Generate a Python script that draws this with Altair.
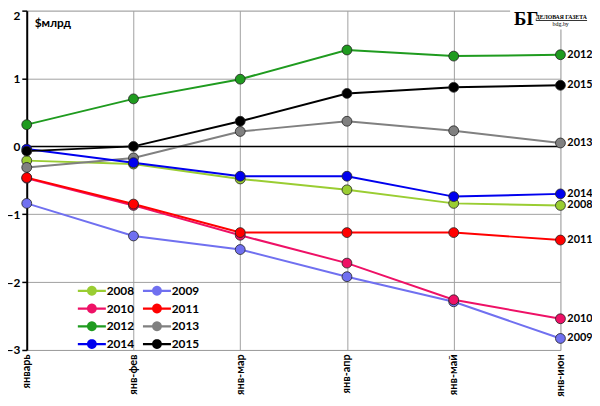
import math
import altair as alt
import pandas as pd

months = ["январь", "янв-фев", "янв-мар", "янв-апр", "янв-май", "янв-июн"]
years = ["2008", "2009", "2010", "2011", "2012", "2013", "2014", "2015"]
v2008 = [-0.21, -0.26, -0.48, -0.64, -0.84, -0.87]
v2009 = [-0.84, -1.32, -1.52, -1.92, -2.29, -2.83]
v2010 = [-0.47, -0.87, -1.31, -1.72, -2.26, -2.54]
v2011 = [-0.46, -0.85, -1.27, -1.27, -1.27, -1.38]
v2012 = [0.32, 0.70, 0.99, 1.42, 1.33, 1.35]
v2013 = [-0.31, -0.17, 0.22, 0.37, 0.23, 0.05]
v2014 = [-0.04, -0.24, -0.44, -0.44, -0.74, -0.70]
v2015 = [-0.07, 0.00, 0.37, 0.78, 0.87, 0.90]
colors = ["#9acd32", "#7070f0", "#ee1166", "#ff0000", "#1f9b1f", "#808080", "#0000ee", "#000000"]

series = [v2008, v2009, v2010, v2011, v2012, v2013, v2014, v2015]
rows = []
for y, vals in zip(years, series):
    for m, v in zip(months, vals):
        rows.append({"month": m, "year": y, "value": v})
df = pd.DataFrame(rows)

FONT = "Lato"
W, H = 541, 344


def poly(r, n=24):
    return "M" + "L".join(f"{r*math.cos(2*math.pi*k/n):.3f},{r*math.sin(2*math.pi*k/n):.3f}" for k in range(n)) + "Z"


# legend glyph: line segment with a dot, drawn with stroke only
bars = "M-1.65,-0.02L-0.5,-0.02L-0.5,0.02L-1.65,0.02ZM0.5,-0.02L1.65,-0.02L1.65,0.02L0.5,0.02Z"
path = bars + poly(0.5) + poly(0.32) + poly(0.15) + poly(0.03, 6)

xenc = alt.X("month:N", sort=months, scale=alt.Scale(padding=0),
             axis=alt.Axis(title=None, labelAngle=270, labelAlign="right", labelBaseline="middle",
                           labelFontWeight="bold", labelFontSize=11, labelFont=FONT, labelColor="#000",
                           ticks=False, labelPadding=4, domainColor="#a0a0a0", grid=True,
                           gridColor="#a0a0a0", labelOverlap=False))
yenc = alt.Y("value:Q", scale=alt.Scale(domain=[-3, 2], nice=False),
             axis=alt.Axis(title=None, values=[-3, -2, -1, 0, 1, 2], grid=True, gridColor="#a0a0a0",
                           domainColor="#000", domainWidth=2, tickColor="#000", tickSize=5, tickWidth=1.5,
                           labelFontWeight="bold", labelFontSize=12, labelFont=FONT, labelColor="#000",
                           labelPadding=2, format="d",
                           labelBaseline={"condition": {"test": "datum.value == 2", "value": "top"},
                                          "value": "middle"}))
color = alt.Color("year:N", scale=alt.Scale(domain=years, range=colors),
                  legend=alt.Legend(orient="none", legendX=57, legendY=275, columns=2, direction="horizontal",
                                    title=None, symbolType=path, symbolSize=256, symbolStrokeWidth=2,
                                    labelFont=FONT, labelFontSize=12, labelFontWeight="bold",
                                    labelColor="#000", labelOffset=6, columnPadding=5, rowPadding=1,
                                    padding=0))
fill = alt.Fill("year:N", scale=alt.Scale(domain=years, range=colors), legend=None)

base = alt.Chart(df)

zero = alt.Chart(pd.DataFrame({"z": [0]})).mark_rule(color="#000", strokeWidth=1.5).encode(y="z:Q")

lines = base.mark_line(strokeWidth=2).encode(x=xenc, y=yenc, color=color)
points = base.mark_point(filled=True, size=100, stroke="#222", strokeWidth=0.8, opacity=1).encode(
    x=alt.X("month:N", sort=months), y="value:Q", fill=fill)

labels = base.transform_filter(alt.datum.month == months[-1]).mark_text(
    align="left", baseline="middle", dx=7, font=FONT, fontSize=11, fontWeight="bold", color="#000"
).encode(x=alt.X("month:N", sort=months), y="value:Q", text="year:N")

unit_title = alt.Chart(pd.DataFrame({"t": ["$млрд"]})).mark_text(
    align="left", baseline="middle", font=FONT, fontSize=12, fontWeight="bold", color="#000"
).encode(x=alt.value(8), y=alt.value(13), text="t:N")

logo_bg = alt.Chart(pd.DataFrame({"a": [1]})).mark_rect(color="white").encode(
    x=alt.value(490), x2=alt.value(573), y=alt.value(-1), y2=alt.value(19))
logo_bg2 = alt.Chart(pd.DataFrame({"t": ["БГ"]})).mark_text(
    align="left", baseline="alphabetic", font="Liberation Serif", fontSize=19, fontWeight="bold", color="#000"
).encode(x=alt.value(494), y=alt.value(15), text="t:N")
logo_t1 = alt.Chart(pd.DataFrame({"t": ["ДЕЛОВАЯ ГАЗЕТА"]})).mark_text(
    align="left", baseline="alphabetic", font="Liberation Serif", fontSize=5.8, fontWeight="bold", color="#000"
).encode(x=alt.value(516), y=alt.value(8), text="t:N")
logo_ul = alt.Chart(pd.DataFrame({"a": [1]})).mark_rule(color="#000", strokeWidth=0.8).encode(
    x=alt.value(516), x2=alt.value(568), y=alt.value(10))
logo_t2 = alt.Chart(pd.DataFrame({"t": ["bdg.by"]})).mark_text(
    align="left", baseline="alphabetic", font="Liberation Serif", fontSize=6, color="#000"
).encode(x=alt.value(533), y=alt.value(16), text="t:N")

chart = alt.layer(lines, zero, points, labels, unit_title, logo_bg, logo_bg2, logo_t1, logo_ul, logo_t2).resolve_scale(
    fill="independent"
).properties(
    width=W, height=H, autosize=alt.AutoSizeParams(type="none"),
    padding={"left": 19, "top": 0, "right": 32, "bottom": 46}
).configure_view(stroke="#a0a0a0", strokeWidth=1).configure(background="white")

chart.save("out.html", embed_options={"renderer": "svg", "actions": False})
